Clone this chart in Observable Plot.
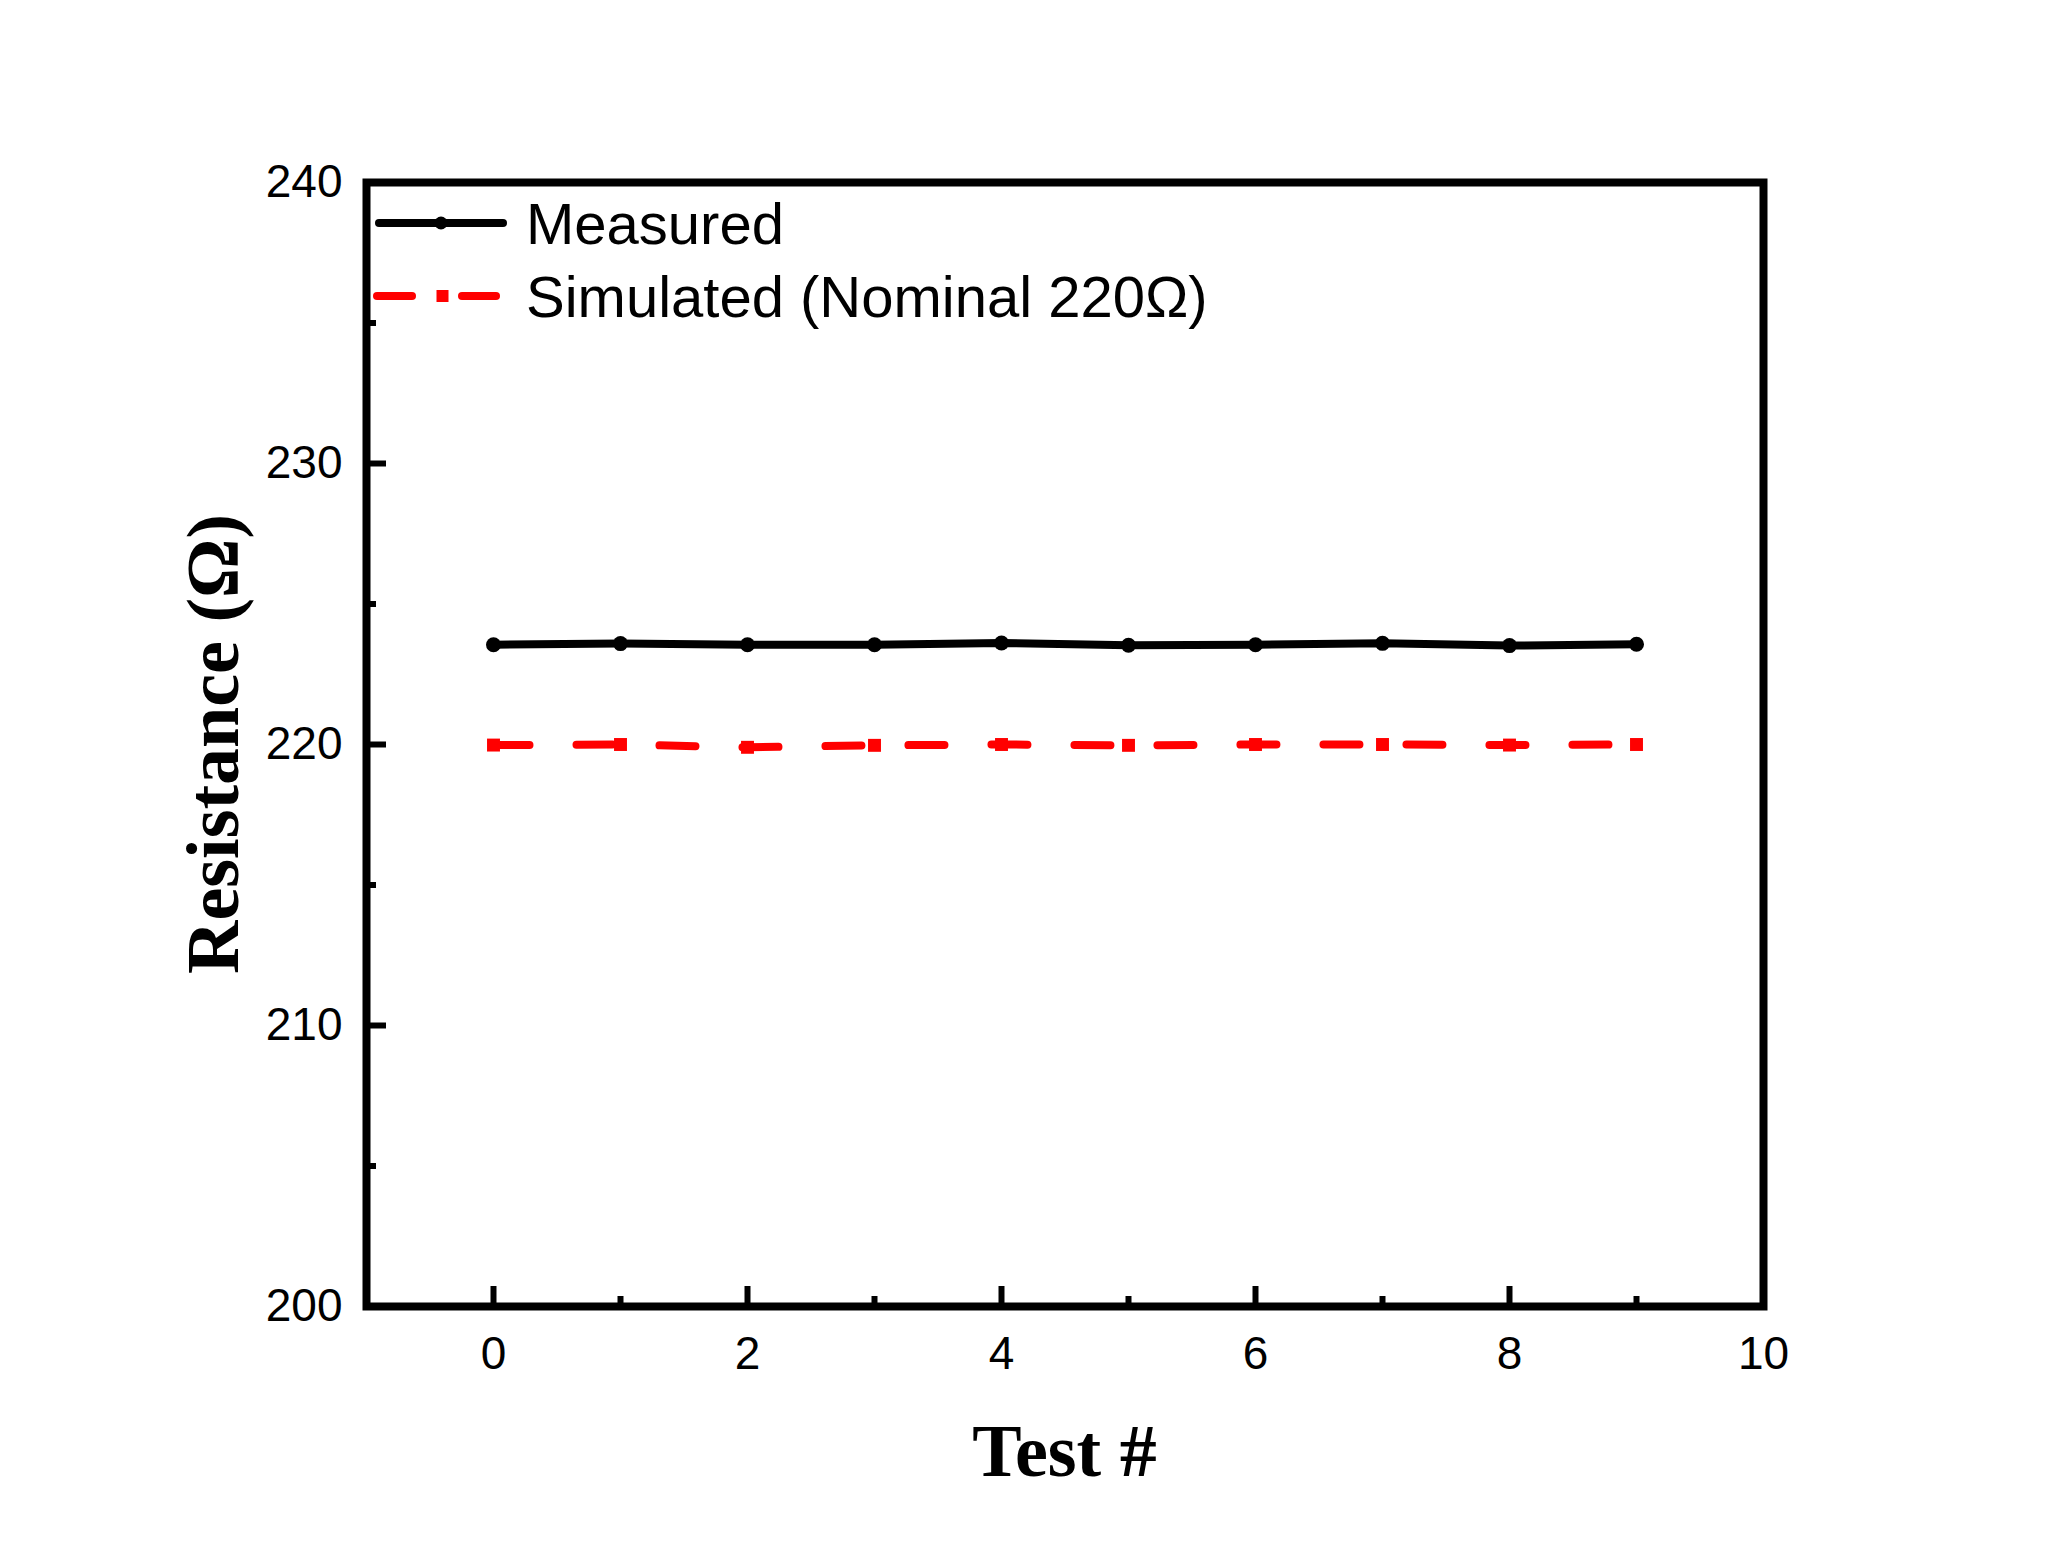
<!DOCTYPE html>
<html>
<head>
<meta charset="utf-8">
<script src="https://cdn.jsdelivr.net/npm/d3@7"></script>
<script src="https://cdn.jsdelivr.net/npm/@observablehq/plot@0.6"></script>
<style>
  html, body { margin: 0; padding: 0; background: #fff; }
  #chart svg { display: block; }
</style>
</head>
<body>
<div id="chart"></div>
<script>
// ---- data ----
const tests = [0, 1, 2, 3, 4, 5, 6, 7, 8, 9];
const measured = [223.55, 223.59, 223.55, 223.55, 223.61, 223.53, 223.55, 223.60, 223.52, 223.57];
const simulated = [219.98, 220.00, 219.90, 219.97, 220.00, 219.97, 220.00, 220.00, 219.98, 220.00];
const xMajorTicks = [0, 2, 4, 6, 8, 10];
const xMinorTicks = [1, 3, 5, 7, 9];
const yMajorTicks = [200, 210, 220, 230, 240];
const yMinorTicks = [205, 215, 225, 235];
const seriesNames = ["Measured", "Simulated (Nominal 220Ω)"];
const xTitle = "Test #";
const yTitle = "Resistance (Ω)";

const measuredData = tests.map((t, i) => ({x: t, y: measured[i]}));
const simulatedData = tests.map((t, i) => ({x: t, y: simulated[i]}));

// ---- layout ----
const W = 2048, H = 1568;
const mL = 366, mR = 285, mT = 182, mB = 262;
const innerW = W - mL - mR, innerH = H - mT - mB;
const sans = "'Liberation Sans', Arial, sans-serif";
const serif = "'Liberation Serif', 'Times New Roman', serif";

const chart = Plot.plot({
  width: W,
  height: H,
  marginLeft: mL,
  marginRight: mR,
  marginTop: mT,
  marginBottom: mB,
  style: {fontFamily: sans, background: "#fff", color: "#000"},
  x: {domain: [-1, 10]},
  y: {domain: [200, 240]},
  marks: [
    Plot.axisX({ticks: xMajorTicks, tickSize: 0, tickPadding: 30, fontSize: 46, label: null, tickFormat: d => String(d)}),
    Plot.axisY({ticks: yMajorTicks, tickSize: 0, tickPadding: 24, fontSize: 46, label: null, tickFormat: d => String(d)}),
    // inward ticks
    Plot.tickX(xMajorTicks, {x: d => d, insetTop: innerH - 20, stroke: "#000", strokeWidth: 6}),
    Plot.tickX(xMinorTicks, {x: d => d, insetTop: innerH - 10, stroke: "#000", strokeWidth: 6}),
    Plot.tickY(yMajorTicks, {y: d => d, insetRight: innerW - 20, stroke: "#000", strokeWidth: 6}),
    Plot.tickY(yMinorTicks, {y: d => d, insetRight: innerW - 10, stroke: "#000", strokeWidth: 6}),
    // simulated
    Plot.line(simulatedData, {x: "x", y: "y", stroke: "#ff0000", strokeWidth: 8, strokeDasharray: "36,47", strokeLinecap: "round"}),
    Plot.dot(simulatedData, {x: "x", y: "y", symbol: "square", r: 7.3, fill: "#ff0000", stroke: "none"}),
    // measured
    Plot.line(measuredData, {x: "x", y: "y", stroke: "#000", strokeWidth: 8, strokeLinecap: "round"}),
    Plot.dot(measuredData, {x: "x", y: "y", r: 7.5, fill: "#000", stroke: "none"}),
    Plot.frame({stroke: "#000", strokeWidth: 8})
  ]
});

document.getElementById("chart").appendChild(chart);

const svg = d3.select(chart);

// axis titles
svg.append("text")
  .attr("x", mL + innerW / 2)
  .attr("y", 1476)
  .attr("text-anchor", "middle")
  .attr("font-family", serif)
  .attr("font-weight", "bold")
  .attr("font-size", 74)
  .attr("fill", "#000")
  .text(xTitle);

svg.append("text")
  .attr("transform", `translate(238,${mT + innerH / 2}) rotate(-90)`)
  .attr("text-anchor", "middle")
  .attr("font-family", serif)
  .attr("font-weight", "bold")
  .attr("font-size", 74)
  .attr("fill", "#000")
  .text(yTitle);

// legend
const lg = svg.append("g").attr("text-anchor", "start");
// row 1: measured
lg.append("line").attr("x1", 379).attr("x2", 503).attr("y1", 223).attr("y2", 223)
  .attr("stroke", "#000").attr("stroke-width", 8).attr("stroke-linecap", "round");
lg.append("circle").attr("cx", 441).attr("cy", 223).attr("r", 6.5).attr("fill", "#000");
lg.append("text").attr("x", 526).attr("y", 244).attr("text-anchor", "start").attr("font-family", sans).attr("font-size", 58)
  .attr("fill", "#000").text(seriesNames[0]);
// row 2: simulated
lg.append("line").attr("x1", 377).attr("x2", 412).attr("y1", 296).attr("y2", 296)
  .attr("stroke", "#ff0000").attr("stroke-width", 8).attr("stroke-linecap", "round");
lg.append("line").attr("x1", 462).attr("x2", 496).attr("y1", 296).attr("y2", 296)
  .attr("stroke", "#ff0000").attr("stroke-width", 8).attr("stroke-linecap", "round");
lg.append("rect").attr("x", 436.5).attr("y", 290).attr("width", 12).attr("height", 12).attr("fill", "#ff0000");
lg.append("text").attr("x", 526).attr("y", 317).attr("text-anchor", "start").attr("font-family", sans).attr("font-size", 58)
  .attr("fill", "#000").text(seriesNames[1]);
</script>
</body>
</html>
